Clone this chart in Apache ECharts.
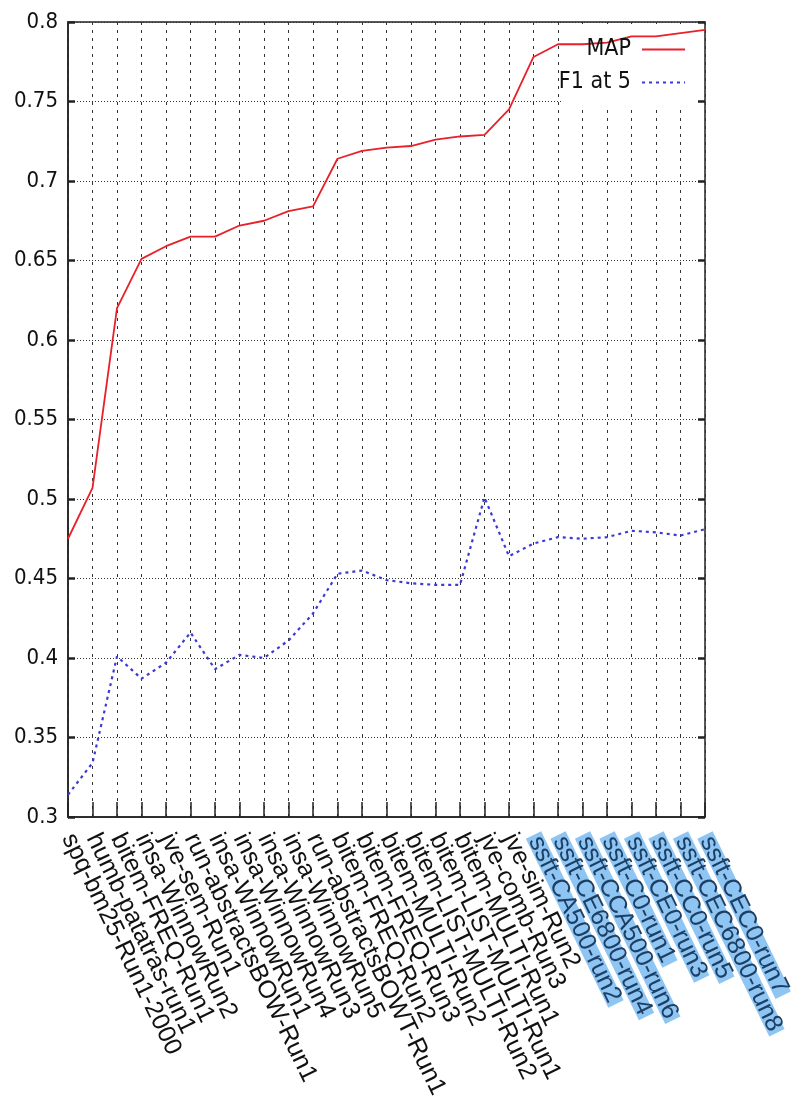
<!DOCTYPE html>
<html>
<head>
<meta charset="utf-8">
<script src="https://cdn.jsdelivr.net/npm/echarts@6/dist/echarts.min.js"></script>
<style>
  html, body { margin: 0; padding: 0; background: #fff; }
  #chart { width: 796px; height: 1106px; }
</style>
</head>
<body>
<div id="chart"></div>
<script>
// runs, in ranking order
var runs = [
    'spq-bm25-Run1-2000', 'humb-patatras-run1', 'bitem-FREQ-Run1', 'insa-WinnowRun2',
    'jve-sem-Run1', 'run-abstractsBOW-Run1', 'insa-WinnowRun1', 'insa-WinnowRun4',
    'insa-WinnowRun3', 'insa-WinnowRun5', 'run-abstractsBOWT-Run1', 'bitem-FREQ-Run2',
    'bitem-FREQ-Run3', 'bitem-MULTI-Run2', 'bitem-LIST-MULTI-Run2', 'bitem-LIST-MULTI-Run1',
    'bitem-MULTI-Run1', 'jve-comb-Run3', 'jve-sim-Run2', 'ssft-CA500-run2',
    'ssft-CE6800-run4', 'ssft-CCA500-run6', 'ssft-C0-run1', 'ssft-CE0-run3',
    'ssft-CC0-run5', 'ssft-CEC6800-run8', 'ssft-CEC0-run7'
];
var mapValues = [
    0.475, 0.507, 0.620, 0.651, 0.659, 0.665, 0.665, 0.672, 0.675, 0.681,
    0.684, 0.714, 0.719, 0.721, 0.722, 0.726, 0.728, 0.729, 0.745, 0.778,
    0.786, 0.786, 0.787, 0.791, 0.791, 0.793, 0.795
];
var f1Values = [
    0.314, 0.334, 0.401, 0.387, 0.397, 0.416, 0.393, 0.402, 0.400, 0.411,
    0.428, 0.453, 0.455, 0.449, 0.447, 0.446, 0.446, 0.501, 0.464, 0.472,
    0.476, 0.475, 0.476, 0.480, 0.479, 0.477, 0.481
];
var highlighted = runs.filter(function (r) { return r.indexOf('ssft') === 0; });
var yMin = 0.3, yMax = 0.8, yStep = 0.05;

var chart = echarts.init(document.getElementById('chart'));
var narrow = '"Liberation Sans Narrow", "DejaVu Sans Condensed", sans-serif';
var sans = '"Liberation Sans", Arial, sans-serif';

var option = {
    animation: false,
    backgroundColor: '#fff',
    grid: {
        left: 68, top: 22, width: 637, height: 795,
        show: true, borderColor: '#222', borderWidth: 1.5, backgroundColor: 'transparent'
    },
    legend: {
        orient: 'vertical',
        align: 'right',
        right: 110,
        top: 38,
        padding: 0,
        itemWidth: 43,
        itemHeight: 14,
        itemGap: 10,
        itemStyle: { opacity: 0 },
        textStyle: { fontFamily: narrow, fontSize: 23, color: '#111', padding: [0, 6, 0, 0] },
        data: ['MAP', 'F1 at 5']
    },
    graphic: [{
        type: 'rect', z: 1,
        shape: { x: 562, y: 24, width: 136, height: 81 },
        style: { fill: '#fff' }
    }],
    xAxis: {
        type: 'category',
        data: runs,
        boundaryGap: false,
        axisLine: { lineStyle: { color: '#222', width: 1.5 } },
        axisTick: { inside: true, length: 15, lineStyle: { color: '#222', width: 1.5 } },
        axisLabel: {
            interval: 0,
            rotate: -64,
            margin: 18,
            fontFamily: sans,
            fontSize: 25,
            color: '#111',
            formatter: function (v) {
                return highlighted.indexOf(v) >= 0 ? '{hl|' + v + '}' : v;
            },
            rich: {
                hl: {
                    fontFamily: sans,
                    fontSize: 25,
                    height: 17,
                    lineHeight: 17,
                    color: '#1c3f66',
                    backgroundColor: '#8ec5f2',
                    padding: [0, 3, 0, 3]
                }
            }
        },
        splitLine: { show: true, lineStyle: { color: '#333', width: 1, type: [3, 5] } }
    },
    yAxis: [{
        type: 'value',
        min: yMin, max: yMax, interval: yStep,
        axisLine: { show: true, lineStyle: { color: '#222', width: 1.5 } },
        axisTick: { show: true, inside: true, length: 7, lineStyle: { color: '#222', width: 2.5 } },
        axisLabel: {
            fontFamily: narrow, fontSize: 22, color: '#111', margin: 10,
            formatter: function (v) { return String(+v.toFixed(2)); }
        },
        splitLine: { show: true, lineStyle: { color: '#333', width: 1, type: [1, 2] } }
    }, {
        type: 'value',
        position: 'right',
        min: yMin, max: yMax, interval: yStep,
        axisLine: { show: false },
        axisTick: { show: true, inside: true, length: 7, lineStyle: { color: '#222', width: 2.5 } },
        axisLabel: { show: false },
        splitLine: { show: false }
    }],
    series: [{
        name: 'MAP',
        type: 'line',
        data: mapValues,
        symbol: 'none',
        z: 3,
        lineStyle: { color: '#e8202a', width: 1.8 },
        itemStyle: { color: '#e8202a' }
    }, {
        name: 'F1 at 5',
        type: 'line',
        data: f1Values,
        symbol: 'none',
        z: 3,
        lineStyle: { color: '#3a3ad6', width: 2.2, type: [3, 4] },
        itemStyle: { color: '#3a3ad6' }
    }]
};
chart.setOption(option);
window.addEventListener('resize', function () {
    chart.resize();
});
</script>
</body>
</html>
